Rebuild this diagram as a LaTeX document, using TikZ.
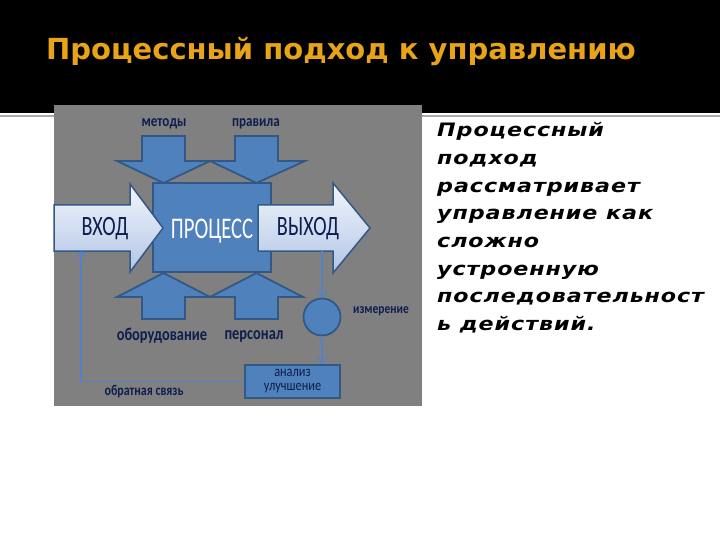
\documentclass[tikz,border=0pt]{standalone}
\usepackage{fontspec}
\usetikzlibrary{arrows.meta}
\newfontfamily\titlefont{DejaVu Sans}
\newfontfamily\bodyfont[LetterSpace=5,FakeStretch=1.2]{DejaVu Sans}
\newfontfamily\calfont{Carlito}
\definecolor{titleorange}{RGB}{232,163,22}
\definecolor{panelgray}{RGB}{128,128,128}
\definecolor{linegray}{RGB}{170,170,170}
\definecolor{boxblue}{RGB}{79,129,189}
\definecolor{edgeblue}{RGB}{52,88,134}
\definecolor{connblue}{RGB}{84,130,200}
\definecolor{navy}{RGB}{14,30,78}
\definecolor{arrtop}{RGB}{242,246,252}
\definecolor{arrbot}{RGB}{178,197,230}
\newcommand\sq[2]{\scalebox{#1}[1]{#2}}
\tikzset{
  blockarrow/.style={draw=edgeblue, line width=1.8pt, fill=boxblue, line join=miter},
  lightarrow/.style={draw=edgeblue, line width=1.5pt, top color=arrtop, bottom color=arrbot, line join=miter},
  lbl/.style={inner sep=0, text=navy, font=\calfont\bfseries\fontsize{16}{18}\selectfont},
  big/.style={inner sep=0, text=navy, font=\calfont\fontsize{28}{32}\selectfont},
  conn/.style={draw=connblue, line width=1.2pt, -{Straight Barb[length=6pt,width=10pt]}},
  rline/.style={anchor=base west, inner sep=0, font=\bodyfont\bfseries\itshape\fontsize{18.5}{22}\selectfont}
}
\begin{document}
\begin{tikzpicture}[x=1pt,y=-1pt]
\useasboundingbox (0,0) rectangle (720,540);
\fill[white] (0,0) rectangle (720,540);
\fill[black] (0,0) rectangle (720,113);
\draw[line width=2pt, linegray] (0,116) -- (720,116);
\fill[panelgray] (54,105) rectangle (422,406);

\node[anchor=base west, inner sep=0, text=titleorange,
      font=\titlefont\bfseries\fontsize{29}{35}\selectfont] (title) at (46,60)
      {Процессный подход к управлению};

% process box
\node[draw=edgeblue, line width=1.8pt, fill=boxblue, minimum width=118pt,
      minimum height=89pt, inner sep=0] (proc) at (212,227.5) {};

% top arrows
\path[blockarrow] (142,136) -- (185,136) -- (185,161) -- (210,161) -- (163.5,183)
  -- (117,161) -- (142,161) -- cycle;
\path[blockarrow] (235,136) -- (278,136) -- (278,161) -- (305,161) -- (256.5,183)
  -- (210,161) -- (235,161) -- cycle;
% bottom arrows
\path[blockarrow] (142,319) -- (185,319) -- (185,297) -- (210,297) -- (163.5,273)
  -- (117,297) -- (142,297) -- cycle;
\path[blockarrow] (235,319) -- (278,319) -- (278,297) -- (303,297) -- (256.5,273)
  -- (210,297) -- (235,297) -- cycle;

% input / output arrows
\path[lightarrow] (54,205) -- (130,205) -- (130,184) -- (163,228) -- (130,272)
  -- (130,251) -- (54,251) -- cycle;
\path[lightarrow] (258,205) -- (333,205) -- (333,183) -- (370,228) -- (333,273)
  -- (333,251) -- (258,251) -- cycle;

\node[inner sep=0, text=white, font=\calfont\fontsize{30}{34}\selectfont] (proctext) at (212,231) {\sq{0.69}{ПРОЦЕСС}};
\node[big] (vhod) at (105,229) {\sq{0.72}{ВХОД}};
\node[big] (vyhod) at (308,229) {\sq{0.72}{ВЫХОД}};

\node[lbl] (metody) at (164,124) {\sq{0.82}{методы}};
\node[lbl] (pravila) at (256,124) {\sq{0.82}{правила}};
\node[lbl, font=\calfont\bfseries\fontsize{18}{20}\selectfont] (oborud) at (162,336) {\sq{0.8}{оборудование}};
\node[lbl, font=\calfont\bfseries\fontsize{18}{20}\selectfont] (personal) at (254,336) {\sq{0.8}{персонал}};

% measurement circle and analysis box
\node[circle, draw=edgeblue, line width=1.8pt, fill=boxblue, minimum size=37pt, inner sep=0] (meas) at (322,317) {};
\node[lbl, font=\calfont\bfseries\fontsize{14}{16}\selectfont] (measlbl) at (381,311) {\sq{0.82}{измерение}};
\node[draw=edgeblue, line width=1.8pt, fill=boxblue, minimum width=95pt, minimum height=33pt, inner sep=0] (anal) at (292.5,381.5) {};
\node[inner sep=0, text=navy, align=center, font=\calfont\fontsize{15}{14}\selectfont] (analtext) at (292.5,381.5) {\sq{0.82}{анализ}\\\sq{0.82}{улучшение}};
\node[lbl, font=\calfont\bfseries\fontsize{15}{16}\selectfont] (fb) at (144,391.5) {\sq{0.8}{обратная связь}};

% connectors
\coordinate (outb) at (322,251);
\coordinate (inb) at (81,251);
\draw[conn] (outb) -- (meas.north);
\draw[conn] (meas.south) -- (meas.south |- anal.north);
\draw[conn] (anal.west) -| (inb);

% right text
\foreach \t [count=\i from 0] in {Процессный, подход, рассматривает, управление как, сложно, устроенную, последовательност, ь действий.}{
  \node[rline] (r\i) at (437,137+27.6*\i) {\t};
}
\end{tikzpicture}
\end{document}
